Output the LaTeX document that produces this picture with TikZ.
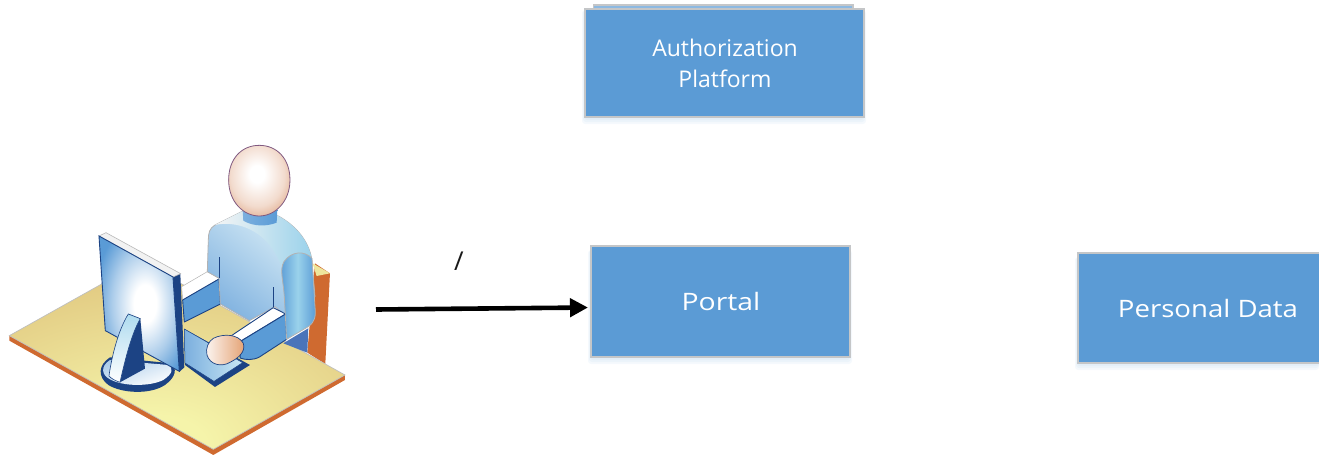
\documentclass[tikz,border=0pt]{standalone}
\usepackage{fontspec}
\usepackage{graphicx}
\setmainfont{Open Sans}
\usetikzlibrary{arrows.meta,positioning}
\definecolor{boxblue}{HTML}{5B9BD5}
\definecolor{boxline}{HTML}{C4C6C8}
\definecolor{deskorange}{HTML}{CF6A30}
\definecolor{navy}{HTML}{1C4384}
\definecolor{sleeve}{HTML}{5A9BD6}
\definecolor{pale}{HTML}{DDF0F8}
\definecolor{desktan}{HTML}{DFC47C}
\definecolor{deskpale}{HTML}{F5F4AA}
\definecolor{chairblue}{HTML}{4A74BA}
\definecolor{armlight}{HTML}{9AD2EB}
\definecolor{skin}{HTML}{DFA583}
\pgfdeclareradialshading{deskglow}{\pgfpoint{-4bp}{-26bp}}{color(0bp)=(deskpale);color(8bp)=(deskpale);color(42bp)=(desktan);color(100bp)=(desktan)}
\pgfdeclareradialshading{screenglow}{\pgfpoint{4bp}{0bp}}{color(0bp)=(white);color(7bp)=(white);color(20bp)=(sleeve!50!white);color(31bp)=(sleeve);color(100bp)=(sleeve)}
\pgfdeclareradialshading{headglow}{\pgfpoint{-2bp}{5bp}}{color(0bp)=(white);color(6bp)=(white);color(22bp)=(skin!40!white);color(34bp)=(skin);color(100bp)=(skin)}
\tikzset{
  bluebox/.style={draw=boxline,line width=2pt,fill=boxblue,inner sep=0pt},
  boxtext/.style={text=white,align=center,inner sep=0pt},
  halo/.style={fill=boxblue,opacity=0.06,rounded corners=3pt},
  edge/.style={draw=navy,line width=0.9pt,line join=round},
  thin outline/.style={draw=gray!60!white,line width=0.8pt,line join=round},
}
\begin{document}
\begin{tikzpicture}[x=1pt,y=-1pt]
\useasboundingbox (0,0) rectangle (1319,455);

% soft shadows under the boxes
\foreach \g in {1,2,3,4}{
  \fill[halo] (586-\g,10) rectangle (862+\g,116+2*\g);
  \fill[halo] (592-\g,250) rectangle (848+\g,356+2*\g);
  \fill[halo] (1079-\g,257) rectangle (1319,362+2*\g);
}

% Authorization Platform, with the sheet behind it
\path[draw=boxline,line width=1.2pt,fill=boxblue!70!white] (593.5,5) rectangle (853,10);
\node[bluebox,minimum width=279pt,minimum height=108pt] (auth) at (724,62.5) {};
\node[boxtext,font=\fontsize{23}{31}\selectfont] (authtext) at (725,63) {Authorization\\Platform};

\node[bluebox,minimum width=259pt,minimum height=111pt] (portal) at (720,301) {};
\node[boxtext,font=\fontsize{24}{28}\selectfont] (portaltext) at (721,301) {\scalebox{1.18}[1]{Portal}};

\node[bluebox,minimum width=244pt,minimum height=110pt,anchor=west] (pdata) at (1077,307.5) {};
\node[boxtext,font=\fontsize{24}{28}\selectfont] (pdatatext) at (1208,308) {\scalebox{1.15}[1]{Personal Data}};

% connector
\coordinate (userend) at (376,309.5);
\draw[line width=4.6pt,shorten >=1.5pt,-{Triangle[length=18pt,width=18pt]}] (userend) -- (portal.west |- 0,307.5);
\node[font=\fontsize{26}{28}\selectfont,text=black!90] (slash) at (459,261) {/};

% the user at the desk (coordinates as in a 3x crop at (0,130))
\begin{scope}[x=0.3333pt,y=-0.3333pt,yshift=-130pt]
  % chair
  \fill[deskorange] (945,400) -- (990,430) -- (976,702) -- (922,668) -- cycle;
  \path[fill=deskpale!70!desktan] (938,400) -- (990,430) -- (950,438) -- cycle;
  % desk
  \fill[deskorange] (28,617) -- (28,632) -- (640,975) -- (1035,750) -- (1035,735) -- (640,955) -- cycle;
  \path[draw=gray!50!white,line width=0.7pt,shading=deskglow]
     (28,617) -- (425,395) -- (1035,735) -- (640,958) -- cycle;
  % chair-side lower body
  \fill[chairblue] (850,640) -- (925,595) -- (922,668) -- cycle;
  % far arm
  \path[fill=white,draw=gray!60!white,line width=0.5pt] (545,470) -- (622,425) -- (660,445) -- (548,510) -- cycle;
  \path[fill=sleeve,edge] (548,510) -- (657,447) -- (661,522) -- (553,576) -- cycle;
  % torso
  \path[left color=pale,right color=sleeve!75!white,shading angle=-40,thin outline]
     (725,245) -- (645,285) .. controls (628,295) and (625,310) .. (625,330) -- (622,425) -- (657,445)
     -- (661,522) -- (748,572) -- (825,530) -- (860,560) -- (945,500) -- (935,385)
     .. controls (925,330) and (885,285) .. (835,258) -- cycle;
  % shoulder highlight
  \path[left color=gray!8!white,right color=armlight] (725,245) -- (645,285) .. controls (700,272) and (800,290) .. (845,410) -- (880,372) -- (935,385)
     .. controls (925,330) and (885,285) .. (835,258) -- cycle;
  \draw[navy,line width=0.6pt] (657,382) -- (657,445);
  \draw[navy,line width=0.6pt] (820,472) -- (820,532);
  % keyboard
  \path[fill=navy] (555,598) -- (750,705) -- (645,771) -- (555,705) -- cycle;
  \path[left color=sleeve!80!white,right color=pale!70!armlight,draw=navy,line width=0.5pt] (553,597) -- (728,698) -- (642,754) -- (555,699) -- cycle;
  % near arm
  \path[fill=white,edge] (690,620) -- (820,533) -- (857,552) -- (725,632) -- cycle;
  \path[fill=sleeve,edge] (725,632) -- (857,552) -- (860,628) -- (780,680) .. controls (760,692) and (735,690) .. (720,684) -- cycle;
  \path[left color=sleeve,right color=sleeve,middle color=armlight,thin outline]
     (860,628) -- (925,590) .. controls (945,575) and (948,560) .. (945,530) -- (936,385) .. controls (915,362) and (875,362) .. (852,395)
     .. controls (838,420) and (850,450) .. (853,500) -- cycle;
  % hand
  \path[left color=white!90!skin,right color=skin!85!orange,edge,line width=0.7pt]
     (640,625) .. controls (670,610) and (715,612) .. (730,640) .. controls (738,665) and (715,685) .. (690,697)
     .. controls (665,712) and (630,705) .. (621,675) .. controls (616,655) and (625,635) .. (640,625) -- cycle;
  % neck and head
  \path[left color=sleeve!80!white,right color=sleeve] (728,240) -- (832,240) -- (830,278) .. controls (800,290) and (760,290) .. (730,272) -- cycle;
  \path[shading=headglow,draw=gray!70!violet,line width=0.8pt]
     (778,46) .. controls (830,46) and (870,85) .. (870,150) .. controls (870,215) and (825,258) .. (778,258)
     .. controls (730,258) and (686,215) .. (686,150) .. controls (686,85) and (726,46) .. (778,46) -- cycle;
  % monitor base
  \path[fill=navy] (330,682) .. controls (295,705) and (292,740) .. (325,765) .. controls (365,790) and (450,795) .. (495,765) .. controls (530,740) and (530,715) .. (515,700) -- cycle;
  \path[left color=sleeve!50!white,right color=white,shading angle=20] (330,690) .. controls (300,710) and (305,735) .. (330,748) .. controls (370,770) and (450,770) .. (490,750) .. controls (520,730) and (520,715) .. (505,705) -- cycle;
  % monitor
  \path[fill=navy] (518,440) -- (541,431) -- (553,712) -- (538,726) -- cycle;
  \path[fill=gray!10!white,draw=gray!55!white,line width=0.6pt] (297,318) -- (318,308) -- (542,431) -- (519,441) -- cycle;
  \path[shading=screenglow,draw=navy,line width=0.9pt] (297,318) -- (519,441) -- (538,724) -- (316,602) -- cycle;
  % monitor stand
  \path[fill=navy] (385,552) -- (421,566) -- (435,716) -- (360,757) .. controls (375,690) and (385,620) .. (385,552) -- cycle;
  \path[top color=armlight!80!white,bottom color=white,draw=navy,line width=0.6pt] (385,552) -- (421,566) .. controls (395,610) and (375,690) .. (360,757)
     .. controls (345,752) and (333,745) .. (327,738) .. controls (335,680) and (355,600) .. (385,552) -- cycle;
\end{scope}
\end{tikzpicture}
\end{document}
